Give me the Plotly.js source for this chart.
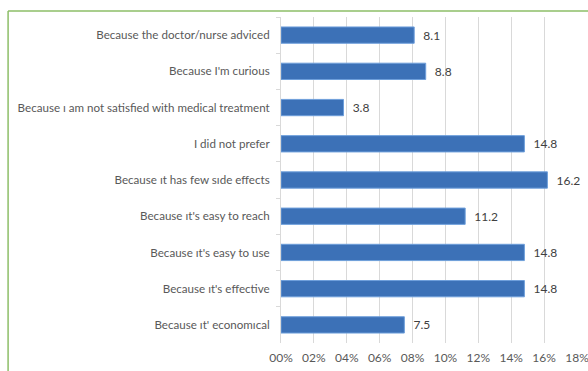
<!DOCTYPE html>
<html><head><meta charset="utf-8">
<script src="https://cdn.plot.ly/plotly-3.0.1.min.js"></script>
<style>html,body{margin:0;padding:0;background:#fff}#chart{width:588px;height:371px}</style>
</head><body><div id="chart"></div>
<script>
const categories = [
  "Because the doctor/nurse adviced",
  "Because I'm curious",
  "Because ı am not satisfied with medical treatment",
  "I did not prefer",
  "Because ıt has few sıde effects",
  "Because ıt's easy to reach",
  "Because ıt's easy to use",
  "Because ıt's effective",
  "Because ıt' economıcal"
];
const values = [8.1, 8.8, 3.8, 14.8, 16.2, 11.2, 14.8, 14.8, 7.5];
const tickVals = [0, 2, 4, 6, 8, 10, 12, 14, 16, 18];
const tickText = ["00%", "02%", "04%", "06%", "08%", "10%", "12%", "14%", "16%", "18%"];

const trace = {
  type: "bar",
  orientation: "h",
  y: categories,
  x: values,
  marker: {color: "#3C71B7", line: {color: "#6E9FDB", width: 1}},
  width: 0.45,
  text: values.map(v => v.toFixed(1)),
  texttemplate: "  %{text}",
  textposition: "outside",
  cliponaxis: false,
  textfont: {family: "Lato, sans-serif", size: 12, color: "#404040"},
  hoverinfo: "none"
};

const layout = {
  width: 588, height: 371,
  margin: {l: 281, r: 11, t: 17, b: 28},
  paper_bgcolor: "#fff", plot_bgcolor: "#fff",
  showlegend: false,
  font: {family: "Lato, sans-serif", size: 11, color: "#595959"},
  xaxis: {
    range: [0, 18], tickvals: tickVals, ticktext: tickText,
    showgrid: true, gridcolor: "#D9D9D9", gridwidth: 1,
    zeroline: false, showline: false, ticks: "",
    ticklabelstandoff: 6, ticklabeloverflow: "allow",
    tickfont: {family: "Lato, sans-serif", size: 12, color: "#595959"}
  },
  yaxis: {
    autorange: "reversed", type: "category",
    showgrid: false, showline: true, linecolor: "#D9D9D9", linewidth: 1,
    ticks: "outside", tickson: "boundaries", ticklen: 4, tickcolor: "#D9D9D9",
    ticklabelstandoff: 8,
    tickfont: {family: "Lato, sans-serif", size: 11.6, color: "#595959"}
  },
  shapes: [
    {type: "line", xref: "paper", yref: "paper", x0: -0.922, x1: -0.922, y0: -0.2, y1: 1.0184,
     line: {color: "#8DBE67", width: 1.5}},
    {type: "line", xref: "paper", yref: "paper", x0: -0.922, x1: 1.1, y0: 1.0184, y1: 1.0184,
     line: {color: "#8DBE67", width: 1.5}}
  ]
};

Plotly.newPlot("chart", [trace], layout, {staticPlot: true, displayModeBar: false});
</script></body></html>
